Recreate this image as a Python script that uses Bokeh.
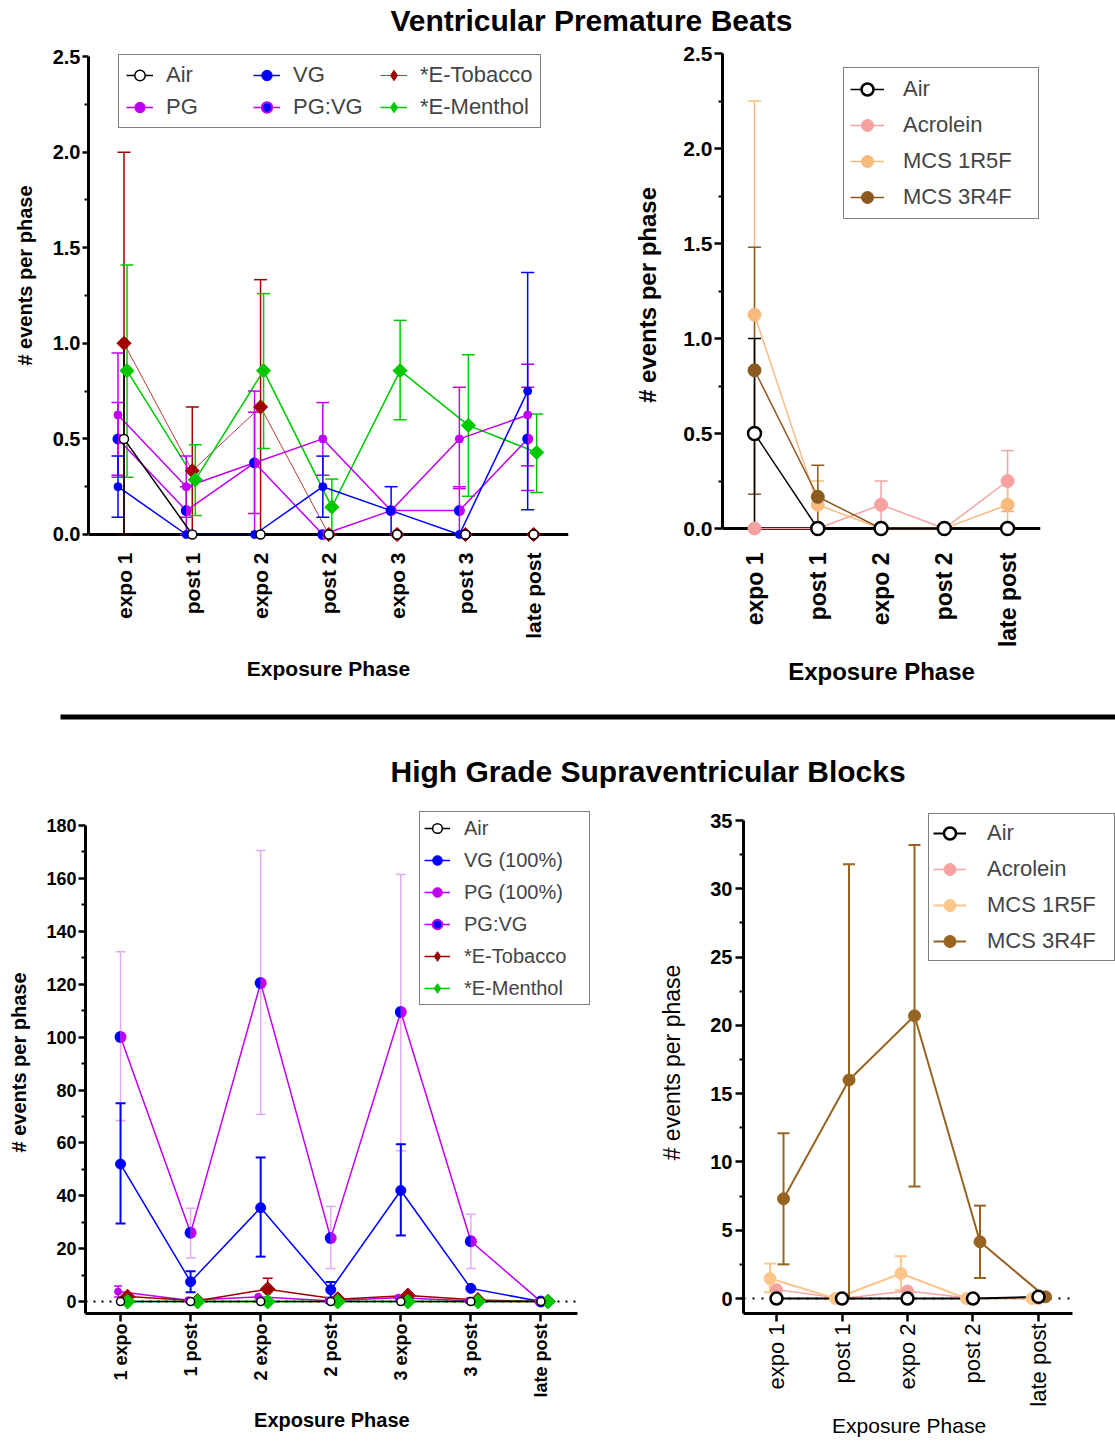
import math
from bokeh.plotting import figure
from bokeh.models import (Range1d, FixedTicker, PrintfTickFormatter, Legend,
                          LegendItem, Span)
from bokeh.layouts import column, row
from bokeh.core.properties import value
from bokeh.embed import file_html
from bokeh.resources import INLINE

FONT = "Liberation Sans"
NBSP = "\u00a0"

# ---------------- Ventricular Premature Beats : e-cigarette groups ----------------
phases_a = ["expo 1", "post 1", "expo 2", "post 2", "expo 3", "post 3", "late post"]
air_a = [0.5, 0, 0, 0, 0, 0, 0]
air_a_lo = [0.0, 0, 0, 0, 0, 0, 0]
air_a_hi = [1.0, 0, 0, 0, 0, 0, 0]
vg_a = [0.25, 0, 0, 0.25, 0.125, 0, 0.75]
vg_a_lo = [0.09, 0, 0, 0.09, 0.0, 0, 0.13]
vg_a_hi = [0.41, 0, 0, 0.41, 0.25, 0, 1.37]
pg_a = [0.625, 0.25, 0.375, 0.5, 0.125, 0.5, 0.625]
pg_a_lo = [0.30, 0.09, 0.11, 0.31, 0.125, 0.24, 0.36]
pg_a_hi = [0.95, 0.41, 0.64, 0.69, 0.125, 0.77, 0.89]
pgvg_a = [0.5, 0.125, 0.375, 0, 0.125, 0.125, 0.5]
pgvg_a_lo = [0.31, 0.0, 0.0, 0, 0.125, 0.0, 0.23]
pgvg_a_hi = [0.69, 0.25, 0.75, 0, 0.125, 0.25, 0.77]
tob_a = [1.0, 0.333, 0.667, 0, 0, 0, 0]
tob_a_lo = [0.0, 0.0, 0.0, 0, 0, 0, 0]
tob_a_hi = [2.0, 0.667, 1.333, 0, 0, 0, 0]
men_a = [0.857, 0.286, 0.857, 0.143, 0.857, 0.571, 0.429]
men_a_lo = [0.30, 0.10, 0.45, 0.0, 0.60, 0.20, 0.22]
men_a_hi = [1.41, 0.47, 1.26, 0.29, 1.12, 0.94, 0.63]
yticks_a = [0, 0.5, 1.0, 1.5, 2.0, 2.5]
yminor_a = [0.25, 0.75, 1.25, 1.75, 2.25]

# ---------------- Ventricular Premature Beats : smoke groups ----------------
phases_b = ["expo 1", "post 1", "expo 2", "post 2", "late post"]
air_b = [0.5, 0, 0, 0, 0]
air_b_lo = [0.0, 0, 0, 0, 0]
air_b_hi = [1.0, 0, 0, 0, 0]
acro_b = [0, 0, 0.125, 0, 0.25]
acro_b_lo = [0, 0, 0.0, 0, 0.09]
acro_b_hi = [0, 0, 0.25, 0, 0.41]
r5f_b = [1.125, 0.125, 0, 0, 0.125]
r5f_b_lo = [0.0, 0.0, 0, 0, 0.0]
r5f_b_hi = [2.25, 0.25, 0, 0, 0.25]
r4f_b = [0.833, 0.167, 0, 0, 0]
r4f_b_lo = [0.18, 0.0, 0, 0, 0]
r4f_b_hi = [1.48, 0.333, 0, 0, 0]
yticks_b = [0, 0.5, 1.0, 1.5, 2.0, 2.5]
yminor_b = [0.25, 0.75, 1.25, 1.75, 2.25]

# ---------------- High Grade Supraventricular Blocks : e-cigarette groups ----------------
phases_c = ["1 expo", "1 post", "2 expo", "2 post", "3 expo", "3 post", "late post"]
air_c = [0, 0, 0, 0, 0, 0, 0]
vg_c = [52, 7.5, 35.5, 4.5, 42, 5, 0]
vg_c_lo = [29.5, 3.5, 17, 1.5, 25, 5, 0]
vg_c_hi = [75, 11.5, 54.5, 7.4, 59.5, 5, 0]
pg_c = [3.8, 0.5, 1.8, 0.3, 1.5, 0.3, 0]
pg_c_lo = [1.7, 0.5, 1.8, 0.3, 1.5, 0.3, 0]
pg_c_hi = [5.9, 0.5, 1.8, 0.3, 1.5, 0.3, 0]
pgvg_c = [100, 26, 120.5, 24, 109.5, 22.8, 0]
pgvg_c_lo = [68.5, 16.5, 70.8, 12.5, 57, 12.5, 0]
pgvg_c_hi = [132.3, 35.3, 170.6, 36, 161.5, 33, 0]
tob_c = [1.9, 0.3, 4.7, 0.9, 2.3, 0.6, 0]
tob_c_lo = [1.9, 0.3, 0.6, 0.9, 2.3, 0.6, 0]
tob_c_hi = [1.9, 0.3, 8.8, 0.9, 2.3, 0.6, 0]
men_c = [0, 0, 0, 0, 0, 0, 0]
yticks_c = list(range(0, 181, 20))
yminor_c = list(range(10, 180, 20))

# ---------------- High Grade Supraventricular Blocks : smoke groups ----------------
phases_d = ["expo 1", "post 1", "expo 2", "post 2", "late post"]
air_d = [0, 0, 0, 0, 0.12]
acro_d = [0.65, 0, 0.55, 0, 0]
r5f_d = [1.46, 0, 1.83, 0, 0]
r5f_d_lo = [0.45, 0, 0.6, 0, 0]
r5f_d_hi = [2.56, 0, 3.1, 0, 0]
r4f_d = [7.3, 16.0, 20.7, 4.15, 0.12]
r4f_d_lo = [2.5, 0.0, 8.2, 1.5, 0.12]
r4f_d_hi = [12.1, 31.8, 33.2, 6.8, 0.12]
yticks_d = [0, 5, 10, 15, 20, 25, 30, 35]
yminor_d = [2.5, 7.5, 12.5, 17.5, 22.5, 27.5, 32.5]

# ---------------- colours ----------------
BLUE = "#0000FF"
MAG = "#C000F0"
MAG_ERR = "#E6A8F4"
TOB = "#A00000"
TOB_LINE = "#B83A3A"
MEN = "#00C800"
ACRO = "#F7A1A1"
R5F = "#F6BB7D"
R4F = "#8C5A1E"
R5F_D = "#FDC68A"
R4F_D = "#976321"


def series(p, y, lo=None, hi=None, off=0.0, color="black", lw=1.5,
           marker="circle", size=8, fill=None, edge=None, edge_w=1.0,
           err_color=None, err_w=1.5, cap=12, angle=0.0, half=None, leg_marker=None):
    xs = [i + off for i in range(len(y))]
    lo = lo if lo is not None else y
    hi = hi if hi is not None else y
    err_color = err_color or color
    line = p.line(xs, y, line_color=color, line_width=lw)
    bx, b0, b1, cx, cy = [], [], [], [], []
    for xi, yi, l, h in zip(xs, y, lo, hi):
        if h > yi or l < yi:
            bx.append(xi); b0.append(l); b1.append(h)
            if h > yi:
                cx.append(xi); cy.append(h)
            if l < yi:
                cx.append(xi); cy.append(l)
    if bx:
        p.segment(bx, b0, bx, b1, line_color=err_color, line_width=err_w)
        p.scatter(cx, cy, marker="dash", size=cap, line_color=err_color,
                  line_width=err_w)
    if half is not None:
        r = size / 2.0
        p.wedge(xs, y, radius=r, radius_units="screen", start_angle=math.pi / 2,
                end_angle=3 * math.pi / 2, fill_color=half[0], line_color=None,
                level="overlay")
        p.wedge(xs, y, radius=r, radius_units="screen", start_angle=-math.pi / 2,
                end_angle=math.pi / 2, fill_color=half[1], line_color=None,
                level="overlay")
        leg = p.scatter(xs, y, marker="circle", size=0, fill_color=half[0],
                        line_color=half[1], line_width=2)
        return [line, leg]
    mk = p.scatter(xs, y, marker=marker, size=size, angle=angle,
                   fill_color=fill or color, line_color=edge or color,
                   line_width=edge_w, level="overlay")
    if leg_marker is not None:
        leg = p.scatter(xs, y, marker=leg_marker, size=0, fill_color=fill or color,
                        line_color=edge or color, line_width=edge_w)
        return [line, leg]
    return [line, mk]


def base_fig(width, height, xr, yr, left, right, top, bottom):
    p = figure(width=width, height=height, x_range=xr, y_range=yr,
               output_backend="svg", toolbar_location=None, title=None,
               min_border_left=left, min_border_right=right,
               min_border_top=top, min_border_bottom=bottom)
    p.outline_line_color = None
    p.xgrid.visible = False
    p.ygrid.visible = False
    return p


def style_x(p, names, size, bold, tick_out, standoff, label, lsize, lbold, lstand,
            axis_line=True):
    ax = p.xaxis[0]
    ax.ticker = FixedTicker(ticks=list(range(len(names))), minor_ticks=[])
    ax.major_label_overrides = {i: s for i, s in enumerate(names)}
    ax.major_label_orientation = math.pi / 2
    ax.major_label_text_font = FONT
    ax.major_label_text_font_size = size
    ax.major_label_text_font_style = "bold" if bold else "normal"
    ax.major_label_text_color = "black"
    ax.major_tick_out = tick_out
    ax.major_tick_in = 0
    ax.major_tick_line_width = 2.5
    ax.major_tick_line_color = "black" if tick_out else None
    ax.minor_tick_line_color = None
    ax.major_label_standoff = standoff
    ax.axis_line_width = 3
    ax.axis_line_color = "black" if axis_line else None
    ax.axis_label = label
    ax.axis_label_text_font = FONT
    ax.axis_label_text_font_size = lsize
    ax.axis_label_text_font_style = "bold" if lbold else "normal"
    ax.axis_label_text_color = "black"
    ax.axis_label_standoff = lstand
    return ax


def style_y(p, ticks, minor, fmt, size, tick_out, standoff, label, lsize, lbold, lstand):
    ax = p.yaxis[0]
    ax.ticker = FixedTicker(ticks=ticks, minor_ticks=minor)
    ax.formatter = PrintfTickFormatter(format=fmt)
    ax.major_label_text_font = FONT
    ax.major_label_text_font_size = size
    ax.major_label_text_font_style = "bold"
    ax.major_label_text_color = "black"
    ax.major_tick_out = tick_out
    ax.major_tick_in = 0
    ax.major_tick_line_width = 2.5
    ax.minor_tick_out = 4
    ax.minor_tick_in = 0
    ax.minor_tick_line_width = 2
    ax.major_label_standoff = standoff
    ax.axis_line_width = 3
    ax.axis_label = label
    ax.axis_label_text_font = FONT
    ax.axis_label_text_font_size = lsize
    ax.axis_label_text_font_style = "bold" if lbold else "normal"
    ax.axis_label_text_color = "black"
    ax.axis_label_standoff = lstand
    return ax


def legend(items, loc, fsize, gw, gh, lw, standoff, spacing, padding, **kw):
    lg = Legend(items=[LegendItem(label=l, renderers=r) for l, r in items],
                location=loc, label_text_font=FONT, label_text_font_size=fsize,
                glyph_width=gw, glyph_height=gh, label_height=gh, label_width=lw,
                label_standoff=standoff, spacing=spacing, padding=padding,
                border_line_color="black", border_line_width=1.5,
                background_fill_alpha=1.0, margin=0, **kw)
    return lg


def zero_axis(p):
    p.add_layout(Span(location=0, dimension="width", line_color="black",
                      line_width=3, level="underlay"))


# both plots of a row share their top / bottom borders
TOP1, BOT1 = 13, 164
TOP2, BOT2 = 11, 130

# ================= Panel A =================
pA = base_fig(600, 660, Range1d(-0.52, 6.51), Range1d(-0.0105, 2.516), 88, 32, TOP1, BOT1)
style_x(pA, phases_a, "21px", True, 0, 16, "Exposure Phase", "21px", True, 15, axis_line=False)
ya = style_y(pA, yticks_a, yminor_a, "%.1f", "20px", 6, 2,
             NBSP * 7 + "# events per phase", "20px", True, 14)
ya.bounds = (0, 2.5)
zero_axis(pA)
rA_tob = series(pA, tob_a, tob_a_lo, tob_a_hi, off=0.0, color=TOB_LINE, lw=1.0,
                marker="square", size=10, angle=math.pi / 4, fill=TOB, edge=TOB,
                err_color=TOB, err_w=1.5, cap=13, leg_marker="diamond")
rA_men = series(pA, men_a, men_a_lo, men_a_hi, off=0.044, color=MEN, lw=1.5,
                marker="square", size=10, angle=math.pi / 4, cap=13, leg_marker="diamond")
rA_pg = series(pA, pg_a, pg_a_lo, pg_a_hi, off=-0.088, color=MAG, lw=1.5, size=8, cap=13)
rA_pgvg = series(pA, pgvg_a, pgvg_a_lo, pgvg_a_hi, off=-0.088, color=MAG, lw=1.5,
                 size=11, cap=13, half=(BLUE, MAG))
rA_vg = series(pA, vg_a, vg_a_lo, vg_a_hi, off=-0.088, color=BLUE, lw=1.5, size=8, cap=13)
rA_air = series(pA, air_a, air_a_lo, air_a_hi, off=0.0, color="black", lw=1.5, size=9,
                fill="white", edge="black", edge_w=1.5, cap=13)
pA.add_layout(legend([("Air", rA_air), ("PG", rA_pg), ("VG", rA_vg), ("PG:VG", rA_pgvg),
                      ("*E-Tobacco", rA_tob), ("*E-Menthol", rA_men)],
                     (30, 408), "22px", 27, 26, 81, 13, 6, 7, nrows=2))

# ================= Panel B =================
pB = base_fig(515, 660, Range1d(-0.506, 4.52), Range1d(-0.042, 2.5), 122, 75, TOP1, BOT1)
style_x(pB, phases_b, "23px", True, 0, 16, "Exposure Phase", "24px", True, 8, axis_line=False)
yb = style_y(pB, yticks_b, yminor_b, "%.1f", "21px", 8, 2, "# events per phase", "24px", True, 19)
yb.bounds = (0, 2.5)
zero_axis(pB)
rB_acro = series(pB, acro_b, acro_b_lo, acro_b_hi, color=ACRO, lw=1.5, size=13, cap=13)
rB_r5f = series(pB, r5f_b, r5f_b_lo, r5f_b_hi, color=R5F, lw=1.5, size=13, cap=13)
rB_r4f = series(pB, r4f_b, r4f_b_lo, r4f_b_hi, color=R4F, lw=1.5, size=13, cap=13)
rB_air = series(pB, air_b, air_b_lo, air_b_hi, color="black", lw=1.5, size=13,
                fill="white", edge="black", edge_w=2.5, cap=13)
pB.add_layout(legend([("Air", rB_air), ("Acrolein", rB_acro), ("MCS 1R5F", rB_r5f),
                      ("MCS 3R4F", rB_r4f)],
                     (121, 317), "22px", 34, 30, 129, 19, 6, 6))

# ================= Panel C =================
C_X0, C_X1 = -0.5, 6.52
C_Y0, C_Y1 = -4.5, 180
pC = base_fig(600, 643, Range1d(C_X0, 6.85), Range1d(C_Y0, 185.3), 85, 0, TOP2, BOT2)
xc = style_x(pC, phases_c, "18px", True, 8, 2, "Exposure Phase" + NBSP * 4, "20px", True, 8)
xc.bounds = (C_X0, C_X1)
yc = style_y(pC, yticks_c, yminor_c, "%d", "18px", 7, 2, "# events per phase", "20px", True, 13)
yc.bounds = (C_Y0, C_Y1)
pC.line([C_X0, C_X1], [0, 0], line_color="black", line_width=2, line_dash="2 6")
rC_pgvg = series(pC, pgvg_c, pgvg_c_lo, pgvg_c_hi, color=MAG, lw=1.5, size=12,
                 err_color=MAG_ERR, cap=10, half=(BLUE, MAG))
rC_vg = series(pC, vg_c, vg_c_lo, vg_c_hi, color=BLUE, lw=1.5, size=10, err_w=2, cap=10)
rC_pg = series(pC, pg_c, pg_c_lo, pg_c_hi, off=-0.035, color=MAG, lw=1.5, size=7, cap=8)
rC_tob = series(pC, tob_c, tob_c_lo, tob_c_hi, off=0.1, color=TOB, lw=1.5,
                marker="square", size=10.5, angle=math.pi / 4, cap=10, leg_marker="diamond")
rC_men = series(pC, men_c, off=0.1, color=MEN, lw=1.5,
                marker="square", size=10.5, angle=math.pi / 4, cap=10, leg_marker="diamond")
rC_air = series(pC, air_c, color="black", lw=1.5, size=8, fill="white", edge="black",
                edge_w=1.5, cap=10)
pC.add_layout(legend([("Air", rC_air), ("VG (100%)", rC_vg), ("PG (100%)", rC_pg),
                      ("PG:VG", rC_pgvg), ("*E-Tobacco", rC_tob), ("*E-Menthol", rC_men)],
                     (334, 308), "20px", 26, 24, 121, 14, 8, 4))

# ================= Panel D =================
D_X0, D_X1 = -0.504, 4.52
D_Y0, D_Y1 = -1.098, 35
pD = base_fig(515, 643, Range1d(D_X0, 5.176), Range1d(D_Y0, 35.66), 143, 0, TOP2, BOT2)
xd = style_x(pD, phases_d, "22px", False, 8, 2, "Exposure Phase" + NBSP * 7, "21px", False, 4)
xd.bounds = (D_X0, D_X1)
yd = style_y(pD, yticks_d, yminor_d, "%d", "20px", 8, 3, "# events per phase", "23px", False, 22)
yd.bounds = (D_Y0, D_Y1)
pD.line([D_X0, D_X1], [0, 0], line_color="black", line_width=2, line_dash="2 7")
rD_acro = series(pD, acro_d, color=ACRO, lw=1.5, size=12, cap=12)
rD_r5f = series(pD, r5f_d, r5f_d_lo, r5f_d_hi, off=-0.1, color=R5F_D, lw=2, size=12,
                err_w=2, cap=12)
rD_r4f = series(pD, r4f_d, r4f_d_lo, r4f_d_hi, off=0.107, color=R4F_D, lw=2, size=12,
                err_w=2, cap=12)
rD_air = series(pD, air_d, color="black", lw=2, size=12, fill="white", edge="black",
                edge_w=2.5, cap=12)
pD.add_layout(legend([("Air", rD_air), ("Acrolein", rD_acro), ("MCS 1R5F", rD_r5f),
                      ("MCS 3R4F", rD_r4f)],
                     (185, 352), "22px", 33, 30, 123, 21, 6, 4))


# ================= titles and separator =================
def band(height):
    p = figure(width=1115, height=height, x_range=Range1d(0, 1115),
               y_range=Range1d(0, height), output_backend="svg",
               toolbar_location=None, title=None, x_axis_location=None,
               y_axis_location=None, min_border=0, min_border_left=0,
               min_border_right=0, min_border_top=0, min_border_bottom=0)
    p.outline_line_color = None
    p.grid.visible = False
    return p


def title_text(p, txt, x, y):
    p.text(x=[x], y=[y], text=[txt], text_font=value(FONT), text_font_style="bold",
           text_font_size="30px", text_align="left", text_baseline="middle",
           text_color="black")


h1 = band(40)
title_text(h1, "Ventricular Premature Beats", 390, 20)
h2 = band(100)
h2.quad(left=[60], right=[1115], top=[86], bottom=[81], fill_color="black",
        line_color=None)
title_text(h2, "High Grade Supraventricular Blocks", 390, 29)

layout = column(h1, row(pA, pB), h2, row(pC, pD))

open("out.html", "w").write(file_html(layout, INLINE))
